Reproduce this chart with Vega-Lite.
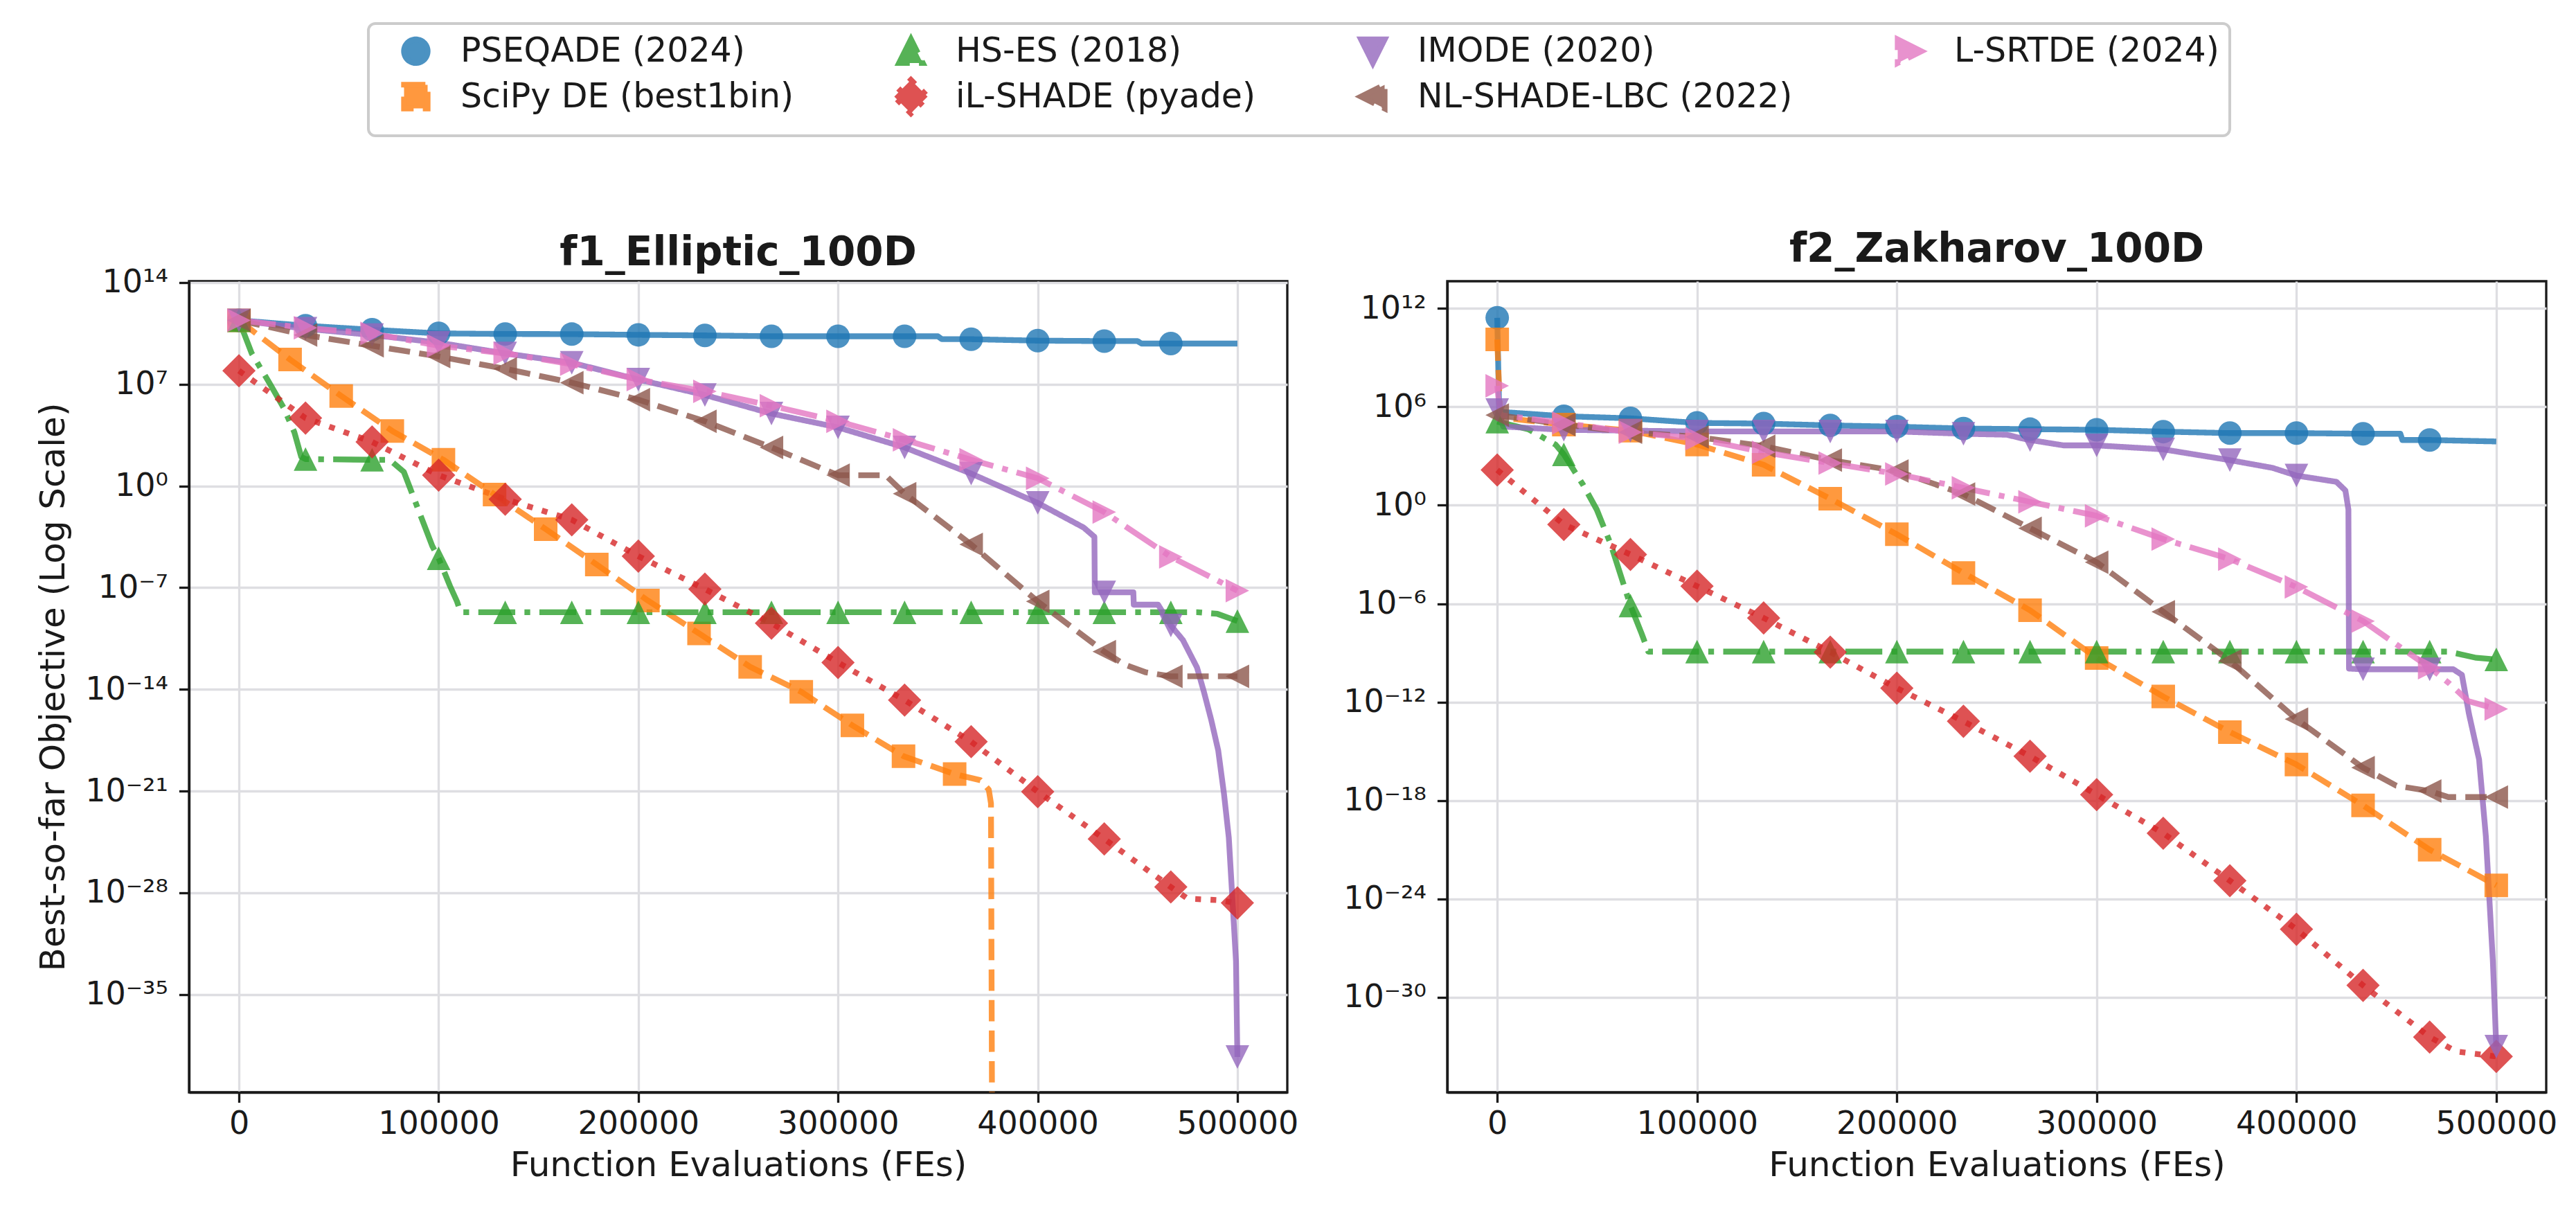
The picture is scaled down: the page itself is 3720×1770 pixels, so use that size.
{
  "$schema": "https://vega.github.io/schema/vega-lite/v6.json",
  "background": "white",
  "padding": {"left": 50, "top": 32, "right": 41, "bottom": 20},
  "config": {
    "font": "DejaVu Sans",
    "view": {"stroke": "#1a1a1a", "strokeWidth": 3.33},
    "axis": {
      "labelFont": "DejaVu Sans", "labelFontSize": 46, "labelColor": "#1a1a1a",
      "titleFont": "DejaVu Sans", "titleFontSize": 50, "titleFontWeight": "normal", "titleColor": "#1a1a1a",
      "tickSize": 14.6, "tickWidth": 3.33, "tickColor": "#1a1a1a",
      "domainColor": "#1a1a1a", "domainWidth": 3.33,
      "gridColor": "#dedee2", "gridWidth": 3.33,
      "labelOverlap": false, "labelFlush": false
    },
    "title": {"font": "DejaVu Sans", "fontSize": 58, "fontWeight": "bold", "color": "#1a1a1a", "baseline": "alphabetic", "anchor": "middle", "frame": "group"},
    "legend": {
      "orient": "none", "legendX": 259, "legendY": -372, "columns": 4,
      "labelFont": "DejaVu Sans", "labelFontSize": 49, "labelColor": "#1a1a1a", "labelLimit": 2000,
      "symbolSize": 1156, "symbolStrokeWidth": 8.33, "symbolOffset": 29, "labelOffset": 40,
      "columnPadding": 115, "rowPadding": -10, "padding": 15,
      "strokeColor": "#cccccc", "strokeWidth": 4, "cornerRadius": 10, "fillColor": "#ffffff"
    }
  },
  "resolve": {"scale": {"x": "independent", "y": "independent", "color": "shared", "strokeDash": "shared", "shape": "shared"}},
  "spacing": 231,
  "bounds": "flush",
  "datasets": {
    "curve": [
      {"fn":"f1_Elliptic_100D","algo":"PSEQADE (2024)","fe":0,"best":2.51e11},
      {"fn":"f1_Elliptic_100D","algo":"PSEQADE (2024)","fe":33333,"best":1.07e11},
      {"fn":"f1_Elliptic_100D","algo":"PSEQADE (2024)","fe":66667,"best":5.62e10},
      {"fn":"f1_Elliptic_100D","algo":"PSEQADE (2024)","fe":100000,"best":3.16e10},
      {"fn":"f1_Elliptic_100D","algo":"PSEQADE (2024)","fe":133333,"best":2.88e10},
      {"fn":"f1_Elliptic_100D","algo":"PSEQADE (2024)","fe":166667,"best":2.82e10},
      {"fn":"f1_Elliptic_100D","algo":"PSEQADE (2024)","fe":200000,"best":2.51e10},
      {"fn":"f1_Elliptic_100D","algo":"PSEQADE (2024)","fe":233333,"best":2.29e10},
      {"fn":"f1_Elliptic_100D","algo":"PSEQADE (2024)","fe":266667,"best":2.0e10},
      {"fn":"f1_Elliptic_100D","algo":"PSEQADE (2024)","fe":300000,"best":2.0e10},
      {"fn":"f1_Elliptic_100D","algo":"PSEQADE (2024)","fe":333333,"best":2.0e10},
      {"fn":"f1_Elliptic_100D","algo":"PSEQADE (2024)","fe":350000,"best":2.0e10},
      {"fn":"f1_Elliptic_100D","algo":"PSEQADE (2024)","fe":352000,"best":1.26e10},
      {"fn":"f1_Elliptic_100D","algo":"PSEQADE (2024)","fe":366667,"best":1.26e10},
      {"fn":"f1_Elliptic_100D","algo":"PSEQADE (2024)","fe":400000,"best":1.0e10},
      {"fn":"f1_Elliptic_100D","algo":"PSEQADE (2024)","fe":433333,"best":9.33e9},
      {"fn":"f1_Elliptic_100D","algo":"PSEQADE (2024)","fe":450000,"best":9.33e9},
      {"fn":"f1_Elliptic_100D","algo":"PSEQADE (2024)","fe":452000,"best":6.31e9},
      {"fn":"f1_Elliptic_100D","algo":"PSEQADE (2024)","fe":466667,"best":6.31e9},
      {"fn":"f1_Elliptic_100D","algo":"PSEQADE (2024)","fe":500000,"best":6.31e9},

      {"fn":"f1_Elliptic_100D","algo":"SciPy DE (best1bin)","fe":0,"best":2.51e11},
      {"fn":"f1_Elliptic_100D","algo":"SciPy DE (best1bin)","fe":25600,"best":5.01e8},
      {"fn":"f1_Elliptic_100D","algo":"SciPy DE (best1bin)","fe":51200,"best":1.55e6},
      {"fn":"f1_Elliptic_100D","algo":"SciPy DE (best1bin)","fe":76800,"best":6.03e3},
      {"fn":"f1_Elliptic_100D","algo":"SciPy DE (best1bin)","fe":102400,"best":63.1},
      {"fn":"f1_Elliptic_100D","algo":"SciPy DE (best1bin)","fe":128000,"best":0.257},
      {"fn":"f1_Elliptic_100D","algo":"SciPy DE (best1bin)","fe":153600,"best":1.07e-3},
      {"fn":"f1_Elliptic_100D","algo":"SciPy DE (best1bin)","fe":179200,"best":3.89e-6},
      {"fn":"f1_Elliptic_100D","algo":"SciPy DE (best1bin)","fe":204800,"best":1.29e-8},
      {"fn":"f1_Elliptic_100D","algo":"SciPy DE (best1bin)","fe":230400,"best":7.08e-11},
      {"fn":"f1_Elliptic_100D","algo":"SciPy DE (best1bin)","fe":256000,"best":3.55e-13},
      {"fn":"f1_Elliptic_100D","algo":"SciPy DE (best1bin)","fe":281600,"best":6.76e-15},
      {"fn":"f1_Elliptic_100D","algo":"SciPy DE (best1bin)","fe":307200,"best":3.31e-17},
      {"fn":"f1_Elliptic_100D","algo":"SciPy DE (best1bin)","fe":332800,"best":2.51e-19},
      {"fn":"f1_Elliptic_100D","algo":"SciPy DE (best1bin)","fe":358400,"best":1.48e-20},
      {"fn":"f1_Elliptic_100D","algo":"SciPy DE (best1bin)","fe":371300,"best":5.62e-21},
      {"fn":"f1_Elliptic_100D","algo":"SciPy DE (best1bin)","fe":375500,"best":1.26e-21},
      {"fn":"f1_Elliptic_100D","algo":"SciPy DE (best1bin)","fe":376600,"best":1.41e-22},
      {"fn":"f1_Elliptic_100D","algo":"SciPy DE (best1bin)","fe":377300,"best":1e-50},

      {"fn":"f1_Elliptic_100D","algo":"HS-ES (2018)","fe":0,"best":2.51e11},
      {"fn":"f1_Elliptic_100D","algo":"HS-ES (2018)","fe":6400,"best":1.32e9},
      {"fn":"f1_Elliptic_100D","algo":"HS-ES (2018)","fe":15200,"best":1.26e7},
      {"fn":"f1_Elliptic_100D","algo":"HS-ES (2018)","fe":22300,"best":2.51e5},
      {"fn":"f1_Elliptic_100D","algo":"HS-ES (2018)","fe":27700,"best":5.13e3},
      {"fn":"f1_Elliptic_100D","algo":"HS-ES (2018)","fe":31200,"best":100},
      {"fn":"f1_Elliptic_100D","algo":"HS-ES (2018)","fe":33333,"best":70.8},
      {"fn":"f1_Elliptic_100D","algo":"HS-ES (2018)","fe":66667,"best":63.1},
      {"fn":"f1_Elliptic_100D","algo":"HS-ES (2018)","fe":75500,"best":63.1},
      {"fn":"f1_Elliptic_100D","algo":"HS-ES (2018)","fe":82600,"best":9.12},
      {"fn":"f1_Elliptic_100D","algo":"HS-ES (2018)","fe":89700,"best":0.0257},
      {"fn":"f1_Elliptic_100D","algo":"HS-ES (2018)","fe":96800,"best":7.41e-5},
      {"fn":"f1_Elliptic_100D","algo":"HS-ES (2018)","fe":100000,"best":1.05e-5},
      {"fn":"f1_Elliptic_100D","algo":"HS-ES (2018)","fe":105700,"best":1.29e-7},
      {"fn":"f1_Elliptic_100D","algo":"HS-ES (2018)","fe":109200,"best":1.12e-8},
      {"fn":"f1_Elliptic_100D","algo":"HS-ES (2018)","fe":111000,"best":2.04e-9},
      {"fn":"f1_Elliptic_100D","algo":"HS-ES (2018)","fe":480000,"best":2.04e-9},
      {"fn":"f1_Elliptic_100D","algo":"HS-ES (2018)","fe":490000,"best":1.58e-9},
      {"fn":"f1_Elliptic_100D","algo":"HS-ES (2018)","fe":500000,"best":5.01e-10},

      {"fn":"f1_Elliptic_100D","algo":"iL-SHADE (pyade)","fe":0,"best":8.51e7},
      {"fn":"f1_Elliptic_100D","algo":"iL-SHADE (pyade)","fe":33333,"best":4.68e4},
      {"fn":"f1_Elliptic_100D","algo":"iL-SHADE (pyade)","fe":66667,"best":1.07e3},
      {"fn":"f1_Elliptic_100D","algo":"iL-SHADE (pyade)","fe":100000,"best":5.5},
      {"fn":"f1_Elliptic_100D","algo":"iL-SHADE (pyade)","fe":133333,"best":0.123},
      {"fn":"f1_Elliptic_100D","algo":"iL-SHADE (pyade)","fe":166667,"best":4.68e-3},
      {"fn":"f1_Elliptic_100D","algo":"iL-SHADE (pyade)","fe":200000,"best":1.48e-5},
      {"fn":"f1_Elliptic_100D","algo":"iL-SHADE (pyade)","fe":233333,"best":7.94e-8},
      {"fn":"f1_Elliptic_100D","algo":"iL-SHADE (pyade)","fe":266667,"best":3.55e-10},
      {"fn":"f1_Elliptic_100D","algo":"iL-SHADE (pyade)","fe":300000,"best":7.08e-13},
      {"fn":"f1_Elliptic_100D","algo":"iL-SHADE (pyade)","fe":333333,"best":1.82e-15},
      {"fn":"f1_Elliptic_100D","algo":"iL-SHADE (pyade)","fe":366667,"best":2.51e-18},
      {"fn":"f1_Elliptic_100D","algo":"iL-SHADE (pyade)","fe":400000,"best":9.12e-22},
      {"fn":"f1_Elliptic_100D","algo":"iL-SHADE (pyade)","fe":433333,"best":5.13e-25},
      {"fn":"f1_Elliptic_100D","algo":"iL-SHADE (pyade)","fe":466667,"best":2.51e-28},
      {"fn":"f1_Elliptic_100D","algo":"iL-SHADE (pyade)","fe":475000,"best":3.98e-29},
      {"fn":"f1_Elliptic_100D","algo":"iL-SHADE (pyade)","fe":490000,"best":3.16e-29},
      {"fn":"f1_Elliptic_100D","algo":"iL-SHADE (pyade)","fe":500000,"best":2.0e-29},

      {"fn":"f1_Elliptic_100D","algo":"IMODE (2020)","fe":0,"best":2.51e11},
      {"fn":"f1_Elliptic_100D","algo":"IMODE (2020)","fe":33333,"best":6.61e10},
      {"fn":"f1_Elliptic_100D","algo":"IMODE (2020)","fe":66667,"best":2.45e10},
      {"fn":"f1_Elliptic_100D","algo":"IMODE (2020)","fe":100000,"best":7.24e9},
      {"fn":"f1_Elliptic_100D","algo":"IMODE (2020)","fe":133333,"best":1.32e9},
      {"fn":"f1_Elliptic_100D","algo":"IMODE (2020)","fe":166667,"best":3.02e8},
      {"fn":"f1_Elliptic_100D","algo":"IMODE (2020)","fe":200000,"best":2.09e7},
      {"fn":"f1_Elliptic_100D","algo":"IMODE (2020)","fe":233333,"best":1.82e6},
      {"fn":"f1_Elliptic_100D","algo":"IMODE (2020)","fe":266667,"best":9.55e4},
      {"fn":"f1_Elliptic_100D","algo":"IMODE (2020)","fe":300000,"best":1.07e4},
      {"fn":"f1_Elliptic_100D","algo":"IMODE (2020)","fe":333333,"best":447},
      {"fn":"f1_Elliptic_100D","algo":"IMODE (2020)","fe":366667,"best":7.08},
      {"fn":"f1_Elliptic_100D","algo":"IMODE (2020)","fe":400000,"best":0.0676},
      {"fn":"f1_Elliptic_100D","algo":"IMODE (2020)","fe":423000,"best":1.38e-3},
      {"fn":"f1_Elliptic_100D","algo":"IMODE (2020)","fe":428400,"best":3.16e-4},
      {"fn":"f1_Elliptic_100D","algo":"IMODE (2020)","fe":428600,"best":4.79e-8},
      {"fn":"f1_Elliptic_100D","algo":"IMODE (2020)","fe":433333,"best":4.79e-8},
      {"fn":"f1_Elliptic_100D","algo":"IMODE (2020)","fe":447900,"best":4.79e-8},
      {"fn":"f1_Elliptic_100D","algo":"IMODE (2020)","fe":448100,"best":6.76e-9},
      {"fn":"f1_Elliptic_100D","algo":"IMODE (2020)","fe":460300,"best":6.76e-9},
      {"fn":"f1_Elliptic_100D","algo":"IMODE (2020)","fe":466667,"best":2.51e-10},
      {"fn":"f1_Elliptic_100D","algo":"IMODE (2020)","fe":472700,"best":2.51e-11},
      {"fn":"f1_Elliptic_100D","algo":"IMODE (2020)","fe":479800,"best":3.16e-13},
      {"fn":"f1_Elliptic_100D","algo":"IMODE (2020)","fe":483300,"best":6.31e-15},
      {"fn":"f1_Elliptic_100D","algo":"IMODE (2020)","fe":486900,"best":7.94e-17},
      {"fn":"f1_Elliptic_100D","algo":"IMODE (2020)","fe":490400,"best":6.31e-19},
      {"fn":"f1_Elliptic_100D","algo":"IMODE (2020)","fe":493300,"best":6.31e-22},
      {"fn":"f1_Elliptic_100D","algo":"IMODE (2020)","fe":495700,"best":6.31e-25},
      {"fn":"f1_Elliptic_100D","algo":"IMODE (2020)","fe":497500,"best":3.98e-29},
      {"fn":"f1_Elliptic_100D","algo":"IMODE (2020)","fe":499300,"best":2.0e-33},
      {"fn":"f1_Elliptic_100D","algo":"IMODE (2020)","fe":500000,"best":5.01e-40},

      {"fn":"f1_Elliptic_100D","algo":"NL-SHADE-LBC (2022)","fe":0,"best":2.51e11},
      {"fn":"f1_Elliptic_100D","algo":"NL-SHADE-LBC (2022)","fe":33333,"best":2.45e10},
      {"fn":"f1_Elliptic_100D","algo":"NL-SHADE-LBC (2022)","fe":66667,"best":4.47e9},
      {"fn":"f1_Elliptic_100D","algo":"NL-SHADE-LBC (2022)","fe":100000,"best":8.13e8},
      {"fn":"f1_Elliptic_100D","algo":"NL-SHADE-LBC (2022)","fe":133333,"best":1.15e8},
      {"fn":"f1_Elliptic_100D","algo":"NL-SHADE-LBC (2022)","fe":166667,"best":1.29e7},
      {"fn":"f1_Elliptic_100D","algo":"NL-SHADE-LBC (2022)","fe":200000,"best":8.71e5},
      {"fn":"f1_Elliptic_100D","algo":"NL-SHADE-LBC (2022)","fe":233333,"best":2.82e4},
      {"fn":"f1_Elliptic_100D","algo":"NL-SHADE-LBC (2022)","fe":266667,"best":447},
      {"fn":"f1_Elliptic_100D","algo":"NL-SHADE-LBC (2022)","fe":300000,"best":5.5},
      {"fn":"f1_Elliptic_100D","algo":"NL-SHADE-LBC (2022)","fe":323800,"best":5.5},
      {"fn":"f1_Elliptic_100D","algo":"NL-SHADE-LBC (2022)","fe":333333,"best":0.295},
      {"fn":"f1_Elliptic_100D","algo":"NL-SHADE-LBC (2022)","fe":366667,"best":9.33e-5},
      {"fn":"f1_Elliptic_100D","algo":"NL-SHADE-LBC (2022)","fe":400000,"best":1.12e-8},
      {"fn":"f1_Elliptic_100D","algo":"NL-SHADE-LBC (2022)","fe":433333,"best":3.98e-12},
      {"fn":"f1_Elliptic_100D","algo":"NL-SHADE-LBC (2022)","fe":443600,"best":5.01e-13},
      {"fn":"f1_Elliptic_100D","algo":"NL-SHADE-LBC (2022)","fe":454200,"best":1.48e-13},
      {"fn":"f1_Elliptic_100D","algo":"NL-SHADE-LBC (2022)","fe":466667,"best":7.94e-14},
      {"fn":"f1_Elliptic_100D","algo":"NL-SHADE-LBC (2022)","fe":500000,"best":7.94e-14},

      {"fn":"f1_Elliptic_100D","algo":"L-SRTDE (2024)","fe":0,"best":2.51e11},
      {"fn":"f1_Elliptic_100D","algo":"L-SRTDE (2024)","fe":33333,"best":7.59e10},
      {"fn":"f1_Elliptic_100D","algo":"L-SRTDE (2024)","fe":66667,"best":3.16e10},
      {"fn":"f1_Elliptic_100D","algo":"L-SRTDE (2024)","fe":100000,"best":4.47e9},
      {"fn":"f1_Elliptic_100D","algo":"L-SRTDE (2024)","fe":133333,"best":1.32e9},
      {"fn":"f1_Elliptic_100D","algo":"L-SRTDE (2024)","fe":166667,"best":2.4e8},
      {"fn":"f1_Elliptic_100D","algo":"L-SRTDE (2024)","fe":200000,"best":2.09e7},
      {"fn":"f1_Elliptic_100D","algo":"L-SRTDE (2024)","fe":233333,"best":3.24e6},
      {"fn":"f1_Elliptic_100D","algo":"L-SRTDE (2024)","fe":266667,"best":3.31e5},
      {"fn":"f1_Elliptic_100D","algo":"L-SRTDE (2024)","fe":300000,"best":2.82e4},
      {"fn":"f1_Elliptic_100D","algo":"L-SRTDE (2024)","fe":333333,"best":1.51e3},
      {"fn":"f1_Elliptic_100D","algo":"L-SRTDE (2024)","fe":366667,"best":63.1},
      {"fn":"f1_Elliptic_100D","algo":"L-SRTDE (2024)","fe":400000,"best":3.39},
      {"fn":"f1_Elliptic_100D","algo":"L-SRTDE (2024)","fe":433333,"best":0.0158},
      {"fn":"f1_Elliptic_100D","algo":"L-SRTDE (2024)","fe":466667,"best":1.32e-5},
      {"fn":"f1_Elliptic_100D","algo":"L-SRTDE (2024)","fe":500000,"best":6.17e-8},

      {"fn":"f2_Zakharov_100D","algo":"PSEQADE (2024)","fe":0,"best":2.69e11},
      {"fn":"f2_Zakharov_100D","algo":"PSEQADE (2024)","fe":1000,"best":5.01e5},
      {"fn":"f2_Zakharov_100D","algo":"PSEQADE (2024)","fe":33333,"best":2.69e5},
      {"fn":"f2_Zakharov_100D","algo":"PSEQADE (2024)","fe":66667,"best":2.0e5},
      {"fn":"f2_Zakharov_100D","algo":"PSEQADE (2024)","fe":100000,"best":1.05e5},
      {"fn":"f2_Zakharov_100D","algo":"PSEQADE (2024)","fe":133333,"best":9.55e4},
      {"fn":"f2_Zakharov_100D","algo":"PSEQADE (2024)","fe":166667,"best":7.41e4},
      {"fn":"f2_Zakharov_100D","algo":"PSEQADE (2024)","fe":200000,"best":6.17e4},
      {"fn":"f2_Zakharov_100D","algo":"PSEQADE (2024)","fe":233333,"best":4.79e4},
      {"fn":"f2_Zakharov_100D","algo":"PSEQADE (2024)","fe":266667,"best":4.37e4},
      {"fn":"f2_Zakharov_100D","algo":"PSEQADE (2024)","fe":300000,"best":3.98e4},
      {"fn":"f2_Zakharov_100D","algo":"PSEQADE (2024)","fe":333333,"best":3.09e4},
      {"fn":"f2_Zakharov_100D","algo":"PSEQADE (2024)","fe":366667,"best":2.51e4},
      {"fn":"f2_Zakharov_100D","algo":"PSEQADE (2024)","fe":400000,"best":2.51e4},
      {"fn":"f2_Zakharov_100D","algo":"PSEQADE (2024)","fe":433333,"best":2.29e4},
      {"fn":"f2_Zakharov_100D","algo":"PSEQADE (2024)","fe":452000,"best":2.29e4},
      {"fn":"f2_Zakharov_100D","algo":"PSEQADE (2024)","fe":453000,"best":9.55e3},
      {"fn":"f2_Zakharov_100D","algo":"PSEQADE (2024)","fe":466667,"best":9.55e3},
      {"fn":"f2_Zakharov_100D","algo":"PSEQADE (2024)","fe":500000,"best":7.76e3},

      {"fn":"f2_Zakharov_100D","algo":"SciPy DE (best1bin)","fe":0,"best":1.29e10},
      {"fn":"f2_Zakharov_100D","algo":"SciPy DE (best1bin)","fe":1500,"best":2.24e5},
      {"fn":"f2_Zakharov_100D","algo":"SciPy DE (best1bin)","fe":33333,"best":8.32e4},
      {"fn":"f2_Zakharov_100D","algo":"SciPy DE (best1bin)","fe":66667,"best":3.55e4},
      {"fn":"f2_Zakharov_100D","algo":"SciPy DE (best1bin)","fe":100000,"best":5.01e3},
      {"fn":"f2_Zakharov_100D","algo":"SciPy DE (best1bin)","fe":133333,"best":295},
      {"fn":"f2_Zakharov_100D","algo":"SciPy DE (best1bin)","fe":166667,"best":2.51},
      {"fn":"f2_Zakharov_100D","algo":"SciPy DE (best1bin)","fe":200000,"best":0.017},
      {"fn":"f2_Zakharov_100D","algo":"SciPy DE (best1bin)","fe":233333,"best":7.41e-5},
      {"fn":"f2_Zakharov_100D","algo":"SciPy DE (best1bin)","fe":266667,"best":3.98e-7},
      {"fn":"f2_Zakharov_100D","algo":"SciPy DE (best1bin)","fe":300000,"best":4.9e-10},
      {"fn":"f2_Zakharov_100D","algo":"SciPy DE (best1bin)","fe":333333,"best":2.19e-12},
      {"fn":"f2_Zakharov_100D","algo":"SciPy DE (best1bin)","fe":366667,"best":1.48e-14},
      {"fn":"f2_Zakharov_100D","algo":"SciPy DE (best1bin)","fe":400000,"best":1.55e-16},
      {"fn":"f2_Zakharov_100D","algo":"SciPy DE (best1bin)","fe":433333,"best":5.01e-19},
      {"fn":"f2_Zakharov_100D","algo":"SciPy DE (best1bin)","fe":466667,"best":1.0e-21},
      {"fn":"f2_Zakharov_100D","algo":"SciPy DE (best1bin)","fe":500000,"best":6.76e-24},

      {"fn":"f2_Zakharov_100D","algo":"HS-ES (2018)","fe":0,"best":1.26e5},
      {"fn":"f2_Zakharov_100D","algo":"HS-ES (2018)","fe":15500,"best":4.37e4},
      {"fn":"f2_Zakharov_100D","algo":"HS-ES (2018)","fe":29200,"best":5.01e3},
      {"fn":"f2_Zakharov_100D","algo":"HS-ES (2018)","fe":33333,"best":1.26e3},
      {"fn":"f2_Zakharov_100D","algo":"HS-ES (2018)","fe":43000,"best":17.4},
      {"fn":"f2_Zakharov_100D","algo":"HS-ES (2018)","fe":49800,"best":0.55},
      {"fn":"f2_Zakharov_100D","algo":"HS-ES (2018)","fe":56700,"best":4.57e-3},
      {"fn":"f2_Zakharov_100D","algo":"HS-ES (2018)","fe":66667,"best":7.76e-7},
      {"fn":"f2_Zakharov_100D","algo":"HS-ES (2018)","fe":72200,"best":1.58e-8},
      {"fn":"f2_Zakharov_100D","algo":"HS-ES (2018)","fe":75600,"best":1.2e-9},
      {"fn":"f2_Zakharov_100D","algo":"HS-ES (2018)","fe":476000,"best":1.2e-9},
      {"fn":"f2_Zakharov_100D","algo":"HS-ES (2018)","fe":490000,"best":5.01e-10},
      {"fn":"f2_Zakharov_100D","algo":"HS-ES (2018)","fe":500000,"best":3.98e-10},

      {"fn":"f2_Zakharov_100D","algo":"iL-SHADE (pyade)","fe":0,"best":141},
      {"fn":"f2_Zakharov_100D","algo":"iL-SHADE (pyade)","fe":33333,"best":0.0676},
      {"fn":"f2_Zakharov_100D","algo":"iL-SHADE (pyade)","fe":66667,"best":1e-3},
      {"fn":"f2_Zakharov_100D","algo":"iL-SHADE (pyade)","fe":100000,"best":1.17e-5},
      {"fn":"f2_Zakharov_100D","algo":"iL-SHADE (pyade)","fe":133333,"best":1.35e-7},
      {"fn":"f2_Zakharov_100D","algo":"iL-SHADE (pyade)","fe":166667,"best":1.12e-9},
      {"fn":"f2_Zakharov_100D","algo":"iL-SHADE (pyade)","fe":200000,"best":7.08e-12},
      {"fn":"f2_Zakharov_100D","algo":"iL-SHADE (pyade)","fe":233333,"best":6.76e-14},
      {"fn":"f2_Zakharov_100D","algo":"iL-SHADE (pyade)","fe":266667,"best":5.01e-16},
      {"fn":"f2_Zakharov_100D","algo":"iL-SHADE (pyade)","fe":300000,"best":2.29e-18},
      {"fn":"f2_Zakharov_100D","algo":"iL-SHADE (pyade)","fe":333333,"best":1e-20},
      {"fn":"f2_Zakharov_100D","algo":"iL-SHADE (pyade)","fe":366667,"best":1.29e-23},
      {"fn":"f2_Zakharov_100D","algo":"iL-SHADE (pyade)","fe":400000,"best":1.41e-26},
      {"fn":"f2_Zakharov_100D","algo":"iL-SHADE (pyade)","fe":433333,"best":5.37e-30},
      {"fn":"f2_Zakharov_100D","algo":"iL-SHADE (pyade)","fe":466667,"best":3.8e-33},
      {"fn":"f2_Zakharov_100D","algo":"iL-SHADE (pyade)","fe":480000,"best":5.01e-34},
      {"fn":"f2_Zakharov_100D","algo":"iL-SHADE (pyade)","fe":490000,"best":3.55e-34},
      {"fn":"f2_Zakharov_100D","algo":"iL-SHADE (pyade)","fe":500000,"best":2.51e-34},

      {"fn":"f2_Zakharov_100D","algo":"IMODE (2020)","fe":0,"best":6.31e5},
      {"fn":"f2_Zakharov_100D","algo":"IMODE (2020)","fe":3000,"best":6.31e4},
      {"fn":"f2_Zakharov_100D","algo":"IMODE (2020)","fe":33333,"best":3.98e4},
      {"fn":"f2_Zakharov_100D","algo":"IMODE (2020)","fe":66667,"best":3.55e4},
      {"fn":"f2_Zakharov_100D","algo":"IMODE (2020)","fe":100000,"best":3.16e4},
      {"fn":"f2_Zakharov_100D","algo":"IMODE (2020)","fe":133333,"best":3.16e4},
      {"fn":"f2_Zakharov_100D","algo":"IMODE (2020)","fe":166667,"best":3.16e4},
      {"fn":"f2_Zakharov_100D","algo":"IMODE (2020)","fe":200000,"best":3.16e4},
      {"fn":"f2_Zakharov_100D","algo":"IMODE (2020)","fe":233333,"best":2.29e4},
      {"fn":"f2_Zakharov_100D","algo":"IMODE (2020)","fe":255000,"best":2.0e4},
      {"fn":"f2_Zakharov_100D","algo":"IMODE (2020)","fe":263000,"best":1.17e4},
      {"fn":"f2_Zakharov_100D","algo":"IMODE (2020)","fe":266667,"best":9.55e3},
      {"fn":"f2_Zakharov_100D","algo":"IMODE (2020)","fe":283500,"best":4.47e3},
      {"fn":"f2_Zakharov_100D","algo":"IMODE (2020)","fe":300000,"best":4.47e3},
      {"fn":"f2_Zakharov_100D","algo":"IMODE (2020)","fe":333333,"best":2.57e3},
      {"fn":"f2_Zakharov_100D","algo":"IMODE (2020)","fe":366667,"best":562},
      {"fn":"f2_Zakharov_100D","algo":"IMODE (2020)","fe":388000,"best":191},
      {"fn":"f2_Zakharov_100D","algo":"IMODE (2020)","fe":400000,"best":64.6},
      {"fn":"f2_Zakharov_100D","algo":"IMODE (2020)","fe":420000,"best":26.9},
      {"fn":"f2_Zakharov_100D","algo":"IMODE (2020)","fe":424500,"best":7.94},
      {"fn":"f2_Zakharov_100D","algo":"IMODE (2020)","fe":426000,"best":0.55},
      {"fn":"f2_Zakharov_100D","algo":"IMODE (2020)","fe":426300,"best":1.1e-10},
      {"fn":"f2_Zakharov_100D","algo":"IMODE (2020)","fe":433333,"best":1e-10},
      {"fn":"f2_Zakharov_100D","algo":"IMODE (2020)","fe":466667,"best":1e-10},
      {"fn":"f2_Zakharov_100D","algo":"IMODE (2020)","fe":478500,"best":1e-10},
      {"fn":"f2_Zakharov_100D","algo":"IMODE (2020)","fe":482800,"best":4.57e-11},
      {"fn":"f2_Zakharov_100D","algo":"IMODE (2020)","fe":486300,"best":2.0e-13},
      {"fn":"f2_Zakharov_100D","algo":"IMODE (2020)","fe":491400,"best":3.16e-16},
      {"fn":"f2_Zakharov_100D","algo":"IMODE (2020)","fe":494800,"best":6.31e-21},
      {"fn":"f2_Zakharov_100D","algo":"IMODE (2020)","fe":498300,"best":1.58e-28},
      {"fn":"f2_Zakharov_100D","algo":"IMODE (2020)","fe":500000,"best":1e-33},

      {"fn":"f2_Zakharov_100D","algo":"NL-SHADE-LBC (2022)","fe":0,"best":3.16e5},
      {"fn":"f2_Zakharov_100D","algo":"NL-SHADE-LBC (2022)","fe":33333,"best":8.32e4},
      {"fn":"f2_Zakharov_100D","algo":"NL-SHADE-LBC (2022)","fe":66667,"best":2.82e4},
      {"fn":"f2_Zakharov_100D","algo":"NL-SHADE-LBC (2022)","fe":100000,"best":1.48e4},
      {"fn":"f2_Zakharov_100D","algo":"NL-SHADE-LBC (2022)","fe":133333,"best":3.98e3},
      {"fn":"f2_Zakharov_100D","algo":"NL-SHADE-LBC (2022)","fe":166667,"best":562},
      {"fn":"f2_Zakharov_100D","algo":"NL-SHADE-LBC (2022)","fe":200000,"best":123},
      {"fn":"f2_Zakharov_100D","algo":"NL-SHADE-LBC (2022)","fe":233333,"best":4.79},
      {"fn":"f2_Zakharov_100D","algo":"NL-SHADE-LBC (2022)","fe":266667,"best":0.0398},
      {"fn":"f2_Zakharov_100D","algo":"NL-SHADE-LBC (2022)","fe":300000,"best":3.39e-4},
      {"fn":"f2_Zakharov_100D","algo":"NL-SHADE-LBC (2022)","fe":333333,"best":3.24e-7},
      {"fn":"f2_Zakharov_100D","algo":"NL-SHADE-LBC (2022)","fe":366667,"best":3.24e-10},
      {"fn":"f2_Zakharov_100D","algo":"NL-SHADE-LBC (2022)","fe":400000,"best":9.12e-14},
      {"fn":"f2_Zakharov_100D","algo":"NL-SHADE-LBC (2022)","fe":433333,"best":1e-16},
      {"fn":"f2_Zakharov_100D","algo":"NL-SHADE-LBC (2022)","fe":450000,"best":7.94e-18},
      {"fn":"f2_Zakharov_100D","algo":"NL-SHADE-LBC (2022)","fe":466667,"best":3.8e-18},
      {"fn":"f2_Zakharov_100D","algo":"NL-SHADE-LBC (2022)","fe":476000,"best":1.62e-18},
      {"fn":"f2_Zakharov_100D","algo":"NL-SHADE-LBC (2022)","fe":500000,"best":1.62e-18},

      {"fn":"f2_Zakharov_100D","algo":"L-SRTDE (2024)","fe":0,"best":1.91e7},
      {"fn":"f2_Zakharov_100D","algo":"L-SRTDE (2024)","fe":1500,"best":3.16e5},
      {"fn":"f2_Zakharov_100D","algo":"L-SRTDE (2024)","fe":33333,"best":1.05e5},
      {"fn":"f2_Zakharov_100D","algo":"L-SRTDE (2024)","fe":66667,"best":2.82e4},
      {"fn":"f2_Zakharov_100D","algo":"L-SRTDE (2024)","fe":100000,"best":1.17e4},
      {"fn":"f2_Zakharov_100D","algo":"L-SRTDE (2024)","fe":133333,"best":1.7e3},
      {"fn":"f2_Zakharov_100D","algo":"L-SRTDE (2024)","fe":166667,"best":372},
      {"fn":"f2_Zakharov_100D","algo":"L-SRTDE (2024)","fe":200000,"best":81.3},
      {"fn":"f2_Zakharov_100D","algo":"L-SRTDE (2024)","fe":233333,"best":11.5},
      {"fn":"f2_Zakharov_100D","algo":"L-SRTDE (2024)","fe":266667,"best":1.62},
      {"fn":"f2_Zakharov_100D","algo":"L-SRTDE (2024)","fe":300000,"best":0.229},
      {"fn":"f2_Zakharov_100D","algo":"L-SRTDE (2024)","fe":333333,"best":8.71e-3},
      {"fn":"f2_Zakharov_100D","algo":"L-SRTDE (2024)","fe":366667,"best":5.25e-4},
      {"fn":"f2_Zakharov_100D","algo":"L-SRTDE (2024)","fe":400000,"best":1.05e-5},
      {"fn":"f2_Zakharov_100D","algo":"L-SRTDE (2024)","fe":433333,"best":8.71e-8},
      {"fn":"f2_Zakharov_100D","algo":"L-SRTDE (2024)","fe":466667,"best":1.26e-10},
      {"fn":"f2_Zakharov_100D","algo":"L-SRTDE (2024)","fe":476000,"best":1.55e-11},
      {"fn":"f2_Zakharov_100D","algo":"L-SRTDE (2024)","fe":486000,"best":1.15e-12},
      {"fn":"f2_Zakharov_100D","algo":"L-SRTDE (2024)","fe":500000,"best":3.8e-13}
    ],
    "checkpoint": [
      {"fn":"f1_Elliptic_100D","algo":"PSEQADE (2024)","fe":0,"best":2.51e11},
      {"fn":"f1_Elliptic_100D","algo":"PSEQADE (2024)","fe":33333,"best":1.07e11},
      {"fn":"f1_Elliptic_100D","algo":"PSEQADE (2024)","fe":66667,"best":5.62e10},
      {"fn":"f1_Elliptic_100D","algo":"PSEQADE (2024)","fe":100000,"best":3.16e10},
      {"fn":"f1_Elliptic_100D","algo":"PSEQADE (2024)","fe":133333,"best":2.88e10},
      {"fn":"f1_Elliptic_100D","algo":"PSEQADE (2024)","fe":166667,"best":2.82e10},
      {"fn":"f1_Elliptic_100D","algo":"PSEQADE (2024)","fe":200000,"best":2.51e10},
      {"fn":"f1_Elliptic_100D","algo":"PSEQADE (2024)","fe":233333,"best":2.29e10},
      {"fn":"f1_Elliptic_100D","algo":"PSEQADE (2024)","fe":266667,"best":2.0e10},
      {"fn":"f1_Elliptic_100D","algo":"PSEQADE (2024)","fe":300000,"best":2.0e10},
      {"fn":"f1_Elliptic_100D","algo":"PSEQADE (2024)","fe":333333,"best":2.0e10},
      {"fn":"f1_Elliptic_100D","algo":"PSEQADE (2024)","fe":366667,"best":1.26e10},
      {"fn":"f1_Elliptic_100D","algo":"PSEQADE (2024)","fe":400000,"best":1.0e10},
      {"fn":"f1_Elliptic_100D","algo":"PSEQADE (2024)","fe":433333,"best":9.33e9},
      {"fn":"f1_Elliptic_100D","algo":"PSEQADE (2024)","fe":466667,"best":6.31e9},

      {"fn":"f1_Elliptic_100D","algo":"SciPy DE (best1bin)","fe":0,"best":2.51e11},
      {"fn":"f1_Elliptic_100D","algo":"SciPy DE (best1bin)","fe":25600,"best":5.01e8},
      {"fn":"f1_Elliptic_100D","algo":"SciPy DE (best1bin)","fe":51200,"best":1.55e6},
      {"fn":"f1_Elliptic_100D","algo":"SciPy DE (best1bin)","fe":76800,"best":6.03e3},
      {"fn":"f1_Elliptic_100D","algo":"SciPy DE (best1bin)","fe":102400,"best":63.1},
      {"fn":"f1_Elliptic_100D","algo":"SciPy DE (best1bin)","fe":128000,"best":0.257},
      {"fn":"f1_Elliptic_100D","algo":"SciPy DE (best1bin)","fe":153600,"best":1.07e-3},
      {"fn":"f1_Elliptic_100D","algo":"SciPy DE (best1bin)","fe":179200,"best":3.89e-6},
      {"fn":"f1_Elliptic_100D","algo":"SciPy DE (best1bin)","fe":204800,"best":1.29e-8},
      {"fn":"f1_Elliptic_100D","algo":"SciPy DE (best1bin)","fe":230400,"best":7.08e-11},
      {"fn":"f1_Elliptic_100D","algo":"SciPy DE (best1bin)","fe":256000,"best":3.55e-13},
      {"fn":"f1_Elliptic_100D","algo":"SciPy DE (best1bin)","fe":281600,"best":6.76e-15},
      {"fn":"f1_Elliptic_100D","algo":"SciPy DE (best1bin)","fe":307200,"best":3.31e-17},
      {"fn":"f1_Elliptic_100D","algo":"SciPy DE (best1bin)","fe":332800,"best":2.51e-19},
      {"fn":"f1_Elliptic_100D","algo":"SciPy DE (best1bin)","fe":358400,"best":1.48e-20},

      {"fn":"f1_Elliptic_100D","algo":"HS-ES (2018)","fe":0,"best":2.51e11},
      {"fn":"f1_Elliptic_100D","algo":"HS-ES (2018)","fe":33333,"best":70.8},
      {"fn":"f1_Elliptic_100D","algo":"HS-ES (2018)","fe":66667,"best":63.1},
      {"fn":"f1_Elliptic_100D","algo":"HS-ES (2018)","fe":100000,"best":1.05e-5},
      {"fn":"f1_Elliptic_100D","algo":"HS-ES (2018)","fe":133333,"best":2.04e-9},
      {"fn":"f1_Elliptic_100D","algo":"HS-ES (2018)","fe":166667,"best":2.04e-9},
      {"fn":"f1_Elliptic_100D","algo":"HS-ES (2018)","fe":200000,"best":2.04e-9},
      {"fn":"f1_Elliptic_100D","algo":"HS-ES (2018)","fe":233333,"best":2.04e-9},
      {"fn":"f1_Elliptic_100D","algo":"HS-ES (2018)","fe":266667,"best":2.04e-9},
      {"fn":"f1_Elliptic_100D","algo":"HS-ES (2018)","fe":300000,"best":2.04e-9},
      {"fn":"f1_Elliptic_100D","algo":"HS-ES (2018)","fe":333333,"best":2.04e-9},
      {"fn":"f1_Elliptic_100D","algo":"HS-ES (2018)","fe":366667,"best":2.04e-9},
      {"fn":"f1_Elliptic_100D","algo":"HS-ES (2018)","fe":400000,"best":2.04e-9},
      {"fn":"f1_Elliptic_100D","algo":"HS-ES (2018)","fe":433333,"best":2.04e-9},
      {"fn":"f1_Elliptic_100D","algo":"HS-ES (2018)","fe":466667,"best":2.04e-9},
      {"fn":"f1_Elliptic_100D","algo":"HS-ES (2018)","fe":500000,"best":5.01e-10},

      {"fn":"f1_Elliptic_100D","algo":"iL-SHADE (pyade)","fe":0,"best":8.51e7},
      {"fn":"f1_Elliptic_100D","algo":"iL-SHADE (pyade)","fe":33333,"best":4.68e4},
      {"fn":"f1_Elliptic_100D","algo":"iL-SHADE (pyade)","fe":66667,"best":1.07e3},
      {"fn":"f1_Elliptic_100D","algo":"iL-SHADE (pyade)","fe":100000,"best":5.5},
      {"fn":"f1_Elliptic_100D","algo":"iL-SHADE (pyade)","fe":133333,"best":0.123},
      {"fn":"f1_Elliptic_100D","algo":"iL-SHADE (pyade)","fe":166667,"best":4.68e-3},
      {"fn":"f1_Elliptic_100D","algo":"iL-SHADE (pyade)","fe":200000,"best":1.48e-5},
      {"fn":"f1_Elliptic_100D","algo":"iL-SHADE (pyade)","fe":233333,"best":7.94e-8},
      {"fn":"f1_Elliptic_100D","algo":"iL-SHADE (pyade)","fe":266667,"best":3.55e-10},
      {"fn":"f1_Elliptic_100D","algo":"iL-SHADE (pyade)","fe":300000,"best":7.08e-13},
      {"fn":"f1_Elliptic_100D","algo":"iL-SHADE (pyade)","fe":333333,"best":1.82e-15},
      {"fn":"f1_Elliptic_100D","algo":"iL-SHADE (pyade)","fe":366667,"best":2.51e-18},
      {"fn":"f1_Elliptic_100D","algo":"iL-SHADE (pyade)","fe":400000,"best":9.12e-22},
      {"fn":"f1_Elliptic_100D","algo":"iL-SHADE (pyade)","fe":433333,"best":5.13e-25},
      {"fn":"f1_Elliptic_100D","algo":"iL-SHADE (pyade)","fe":466667,"best":2.51e-28},
      {"fn":"f1_Elliptic_100D","algo":"iL-SHADE (pyade)","fe":500000,"best":2.0e-29},

      {"fn":"f1_Elliptic_100D","algo":"IMODE (2020)","fe":0,"best":2.51e11},
      {"fn":"f1_Elliptic_100D","algo":"IMODE (2020)","fe":33333,"best":6.61e10},
      {"fn":"f1_Elliptic_100D","algo":"IMODE (2020)","fe":66667,"best":2.45e10},
      {"fn":"f1_Elliptic_100D","algo":"IMODE (2020)","fe":100000,"best":7.24e9},
      {"fn":"f1_Elliptic_100D","algo":"IMODE (2020)","fe":133333,"best":1.32e9},
      {"fn":"f1_Elliptic_100D","algo":"IMODE (2020)","fe":166667,"best":3.02e8},
      {"fn":"f1_Elliptic_100D","algo":"IMODE (2020)","fe":200000,"best":2.09e7},
      {"fn":"f1_Elliptic_100D","algo":"IMODE (2020)","fe":233333,"best":1.82e6},
      {"fn":"f1_Elliptic_100D","algo":"IMODE (2020)","fe":266667,"best":9.55e4},
      {"fn":"f1_Elliptic_100D","algo":"IMODE (2020)","fe":300000,"best":1.07e4},
      {"fn":"f1_Elliptic_100D","algo":"IMODE (2020)","fe":333333,"best":447},
      {"fn":"f1_Elliptic_100D","algo":"IMODE (2020)","fe":366667,"best":7.08},
      {"fn":"f1_Elliptic_100D","algo":"IMODE (2020)","fe":400000,"best":0.0676},
      {"fn":"f1_Elliptic_100D","algo":"IMODE (2020)","fe":433333,"best":4.79e-8},
      {"fn":"f1_Elliptic_100D","algo":"IMODE (2020)","fe":466667,"best":2.51e-10},
      {"fn":"f1_Elliptic_100D","algo":"IMODE (2020)","fe":500000,"best":5.01e-40},

      {"fn":"f1_Elliptic_100D","algo":"NL-SHADE-LBC (2022)","fe":0,"best":2.51e11},
      {"fn":"f1_Elliptic_100D","algo":"NL-SHADE-LBC (2022)","fe":33333,"best":2.45e10},
      {"fn":"f1_Elliptic_100D","algo":"NL-SHADE-LBC (2022)","fe":66667,"best":4.47e9},
      {"fn":"f1_Elliptic_100D","algo":"NL-SHADE-LBC (2022)","fe":100000,"best":8.13e8},
      {"fn":"f1_Elliptic_100D","algo":"NL-SHADE-LBC (2022)","fe":133333,"best":1.15e8},
      {"fn":"f1_Elliptic_100D","algo":"NL-SHADE-LBC (2022)","fe":166667,"best":1.29e7},
      {"fn":"f1_Elliptic_100D","algo":"NL-SHADE-LBC (2022)","fe":200000,"best":8.71e5},
      {"fn":"f1_Elliptic_100D","algo":"NL-SHADE-LBC (2022)","fe":233333,"best":2.82e4},
      {"fn":"f1_Elliptic_100D","algo":"NL-SHADE-LBC (2022)","fe":266667,"best":447},
      {"fn":"f1_Elliptic_100D","algo":"NL-SHADE-LBC (2022)","fe":300000,"best":5.5},
      {"fn":"f1_Elliptic_100D","algo":"NL-SHADE-LBC (2022)","fe":333333,"best":0.295},
      {"fn":"f1_Elliptic_100D","algo":"NL-SHADE-LBC (2022)","fe":366667,"best":9.33e-5},
      {"fn":"f1_Elliptic_100D","algo":"NL-SHADE-LBC (2022)","fe":400000,"best":1.12e-8},
      {"fn":"f1_Elliptic_100D","algo":"NL-SHADE-LBC (2022)","fe":433333,"best":3.98e-12},
      {"fn":"f1_Elliptic_100D","algo":"NL-SHADE-LBC (2022)","fe":466667,"best":7.94e-14},
      {"fn":"f1_Elliptic_100D","algo":"NL-SHADE-LBC (2022)","fe":500000,"best":7.94e-14},

      {"fn":"f1_Elliptic_100D","algo":"L-SRTDE (2024)","fe":0,"best":2.51e11},
      {"fn":"f1_Elliptic_100D","algo":"L-SRTDE (2024)","fe":33333,"best":7.59e10},
      {"fn":"f1_Elliptic_100D","algo":"L-SRTDE (2024)","fe":66667,"best":3.16e10},
      {"fn":"f1_Elliptic_100D","algo":"L-SRTDE (2024)","fe":100000,"best":4.47e9},
      {"fn":"f1_Elliptic_100D","algo":"L-SRTDE (2024)","fe":133333,"best":1.32e9},
      {"fn":"f1_Elliptic_100D","algo":"L-SRTDE (2024)","fe":166667,"best":2.4e8},
      {"fn":"f1_Elliptic_100D","algo":"L-SRTDE (2024)","fe":200000,"best":2.09e7},
      {"fn":"f1_Elliptic_100D","algo":"L-SRTDE (2024)","fe":233333,"best":3.24e6},
      {"fn":"f1_Elliptic_100D","algo":"L-SRTDE (2024)","fe":266667,"best":3.31e5},
      {"fn":"f1_Elliptic_100D","algo":"L-SRTDE (2024)","fe":300000,"best":2.82e4},
      {"fn":"f1_Elliptic_100D","algo":"L-SRTDE (2024)","fe":333333,"best":1.51e3},
      {"fn":"f1_Elliptic_100D","algo":"L-SRTDE (2024)","fe":366667,"best":63.1},
      {"fn":"f1_Elliptic_100D","algo":"L-SRTDE (2024)","fe":400000,"best":3.39},
      {"fn":"f1_Elliptic_100D","algo":"L-SRTDE (2024)","fe":433333,"best":0.0158},
      {"fn":"f1_Elliptic_100D","algo":"L-SRTDE (2024)","fe":466667,"best":1.32e-5},
      {"fn":"f1_Elliptic_100D","algo":"L-SRTDE (2024)","fe":500000,"best":6.17e-8},

      {"fn":"f2_Zakharov_100D","algo":"PSEQADE (2024)","fe":0,"best":2.69e11},
      {"fn":"f2_Zakharov_100D","algo":"PSEQADE (2024)","fe":33333,"best":2.69e5},
      {"fn":"f2_Zakharov_100D","algo":"PSEQADE (2024)","fe":66667,"best":2.0e5},
      {"fn":"f2_Zakharov_100D","algo":"PSEQADE (2024)","fe":100000,"best":1.05e5},
      {"fn":"f2_Zakharov_100D","algo":"PSEQADE (2024)","fe":133333,"best":9.55e4},
      {"fn":"f2_Zakharov_100D","algo":"PSEQADE (2024)","fe":166667,"best":7.41e4},
      {"fn":"f2_Zakharov_100D","algo":"PSEQADE (2024)","fe":200000,"best":6.17e4},
      {"fn":"f2_Zakharov_100D","algo":"PSEQADE (2024)","fe":233333,"best":4.79e4},
      {"fn":"f2_Zakharov_100D","algo":"PSEQADE (2024)","fe":266667,"best":4.37e4},
      {"fn":"f2_Zakharov_100D","algo":"PSEQADE (2024)","fe":300000,"best":3.98e4},
      {"fn":"f2_Zakharov_100D","algo":"PSEQADE (2024)","fe":333333,"best":3.09e4},
      {"fn":"f2_Zakharov_100D","algo":"PSEQADE (2024)","fe":366667,"best":2.51e4},
      {"fn":"f2_Zakharov_100D","algo":"PSEQADE (2024)","fe":400000,"best":2.51e4},
      {"fn":"f2_Zakharov_100D","algo":"PSEQADE (2024)","fe":433333,"best":2.29e4},
      {"fn":"f2_Zakharov_100D","algo":"PSEQADE (2024)","fe":466667,"best":9.55e3},

      {"fn":"f2_Zakharov_100D","algo":"SciPy DE (best1bin)","fe":0,"best":1.29e10},
      {"fn":"f2_Zakharov_100D","algo":"SciPy DE (best1bin)","fe":33333,"best":8.32e4},
      {"fn":"f2_Zakharov_100D","algo":"SciPy DE (best1bin)","fe":66667,"best":3.55e4},
      {"fn":"f2_Zakharov_100D","algo":"SciPy DE (best1bin)","fe":100000,"best":5.01e3},
      {"fn":"f2_Zakharov_100D","algo":"SciPy DE (best1bin)","fe":133333,"best":295},
      {"fn":"f2_Zakharov_100D","algo":"SciPy DE (best1bin)","fe":166667,"best":2.51},
      {"fn":"f2_Zakharov_100D","algo":"SciPy DE (best1bin)","fe":200000,"best":0.017},
      {"fn":"f2_Zakharov_100D","algo":"SciPy DE (best1bin)","fe":233333,"best":7.41e-5},
      {"fn":"f2_Zakharov_100D","algo":"SciPy DE (best1bin)","fe":266667,"best":3.98e-7},
      {"fn":"f2_Zakharov_100D","algo":"SciPy DE (best1bin)","fe":300000,"best":4.9e-10},
      {"fn":"f2_Zakharov_100D","algo":"SciPy DE (best1bin)","fe":333333,"best":2.19e-12},
      {"fn":"f2_Zakharov_100D","algo":"SciPy DE (best1bin)","fe":366667,"best":1.48e-14},
      {"fn":"f2_Zakharov_100D","algo":"SciPy DE (best1bin)","fe":400000,"best":1.55e-16},
      {"fn":"f2_Zakharov_100D","algo":"SciPy DE (best1bin)","fe":433333,"best":5.01e-19},
      {"fn":"f2_Zakharov_100D","algo":"SciPy DE (best1bin)","fe":466667,"best":1.0e-21},
      {"fn":"f2_Zakharov_100D","algo":"SciPy DE (best1bin)","fe":500000,"best":6.76e-24},

      {"fn":"f2_Zakharov_100D","algo":"HS-ES (2018)","fe":0,"best":1.26e5},
      {"fn":"f2_Zakharov_100D","algo":"HS-ES (2018)","fe":33333,"best":1.26e3},
      {"fn":"f2_Zakharov_100D","algo":"HS-ES (2018)","fe":66667,"best":7.76e-7},
      {"fn":"f2_Zakharov_100D","algo":"HS-ES (2018)","fe":100000,"best":1.2e-9},
      {"fn":"f2_Zakharov_100D","algo":"HS-ES (2018)","fe":133333,"best":1.2e-9},
      {"fn":"f2_Zakharov_100D","algo":"HS-ES (2018)","fe":166667,"best":1.2e-9},
      {"fn":"f2_Zakharov_100D","algo":"HS-ES (2018)","fe":200000,"best":1.2e-9},
      {"fn":"f2_Zakharov_100D","algo":"HS-ES (2018)","fe":233333,"best":1.2e-9},
      {"fn":"f2_Zakharov_100D","algo":"HS-ES (2018)","fe":266667,"best":1.2e-9},
      {"fn":"f2_Zakharov_100D","algo":"HS-ES (2018)","fe":300000,"best":1.2e-9},
      {"fn":"f2_Zakharov_100D","algo":"HS-ES (2018)","fe":333333,"best":1.2e-9},
      {"fn":"f2_Zakharov_100D","algo":"HS-ES (2018)","fe":366667,"best":1.2e-9},
      {"fn":"f2_Zakharov_100D","algo":"HS-ES (2018)","fe":400000,"best":1.2e-9},
      {"fn":"f2_Zakharov_100D","algo":"HS-ES (2018)","fe":433333,"best":1.2e-9},
      {"fn":"f2_Zakharov_100D","algo":"HS-ES (2018)","fe":466667,"best":1.2e-9},
      {"fn":"f2_Zakharov_100D","algo":"HS-ES (2018)","fe":500000,"best":3.98e-10},

      {"fn":"f2_Zakharov_100D","algo":"iL-SHADE (pyade)","fe":0,"best":141},
      {"fn":"f2_Zakharov_100D","algo":"iL-SHADE (pyade)","fe":33333,"best":0.0676},
      {"fn":"f2_Zakharov_100D","algo":"iL-SHADE (pyade)","fe":66667,"best":1e-3},
      {"fn":"f2_Zakharov_100D","algo":"iL-SHADE (pyade)","fe":100000,"best":1.17e-5},
      {"fn":"f2_Zakharov_100D","algo":"iL-SHADE (pyade)","fe":133333,"best":1.35e-7},
      {"fn":"f2_Zakharov_100D","algo":"iL-SHADE (pyade)","fe":166667,"best":1.12e-9},
      {"fn":"f2_Zakharov_100D","algo":"iL-SHADE (pyade)","fe":200000,"best":7.08e-12},
      {"fn":"f2_Zakharov_100D","algo":"iL-SHADE (pyade)","fe":233333,"best":6.76e-14},
      {"fn":"f2_Zakharov_100D","algo":"iL-SHADE (pyade)","fe":266667,"best":5.01e-16},
      {"fn":"f2_Zakharov_100D","algo":"iL-SHADE (pyade)","fe":300000,"best":2.29e-18},
      {"fn":"f2_Zakharov_100D","algo":"iL-SHADE (pyade)","fe":333333,"best":1e-20},
      {"fn":"f2_Zakharov_100D","algo":"iL-SHADE (pyade)","fe":366667,"best":1.29e-23},
      {"fn":"f2_Zakharov_100D","algo":"iL-SHADE (pyade)","fe":400000,"best":1.41e-26},
      {"fn":"f2_Zakharov_100D","algo":"iL-SHADE (pyade)","fe":433333,"best":5.37e-30},
      {"fn":"f2_Zakharov_100D","algo":"iL-SHADE (pyade)","fe":466667,"best":3.8e-33},
      {"fn":"f2_Zakharov_100D","algo":"iL-SHADE (pyade)","fe":500000,"best":2.51e-34},

      {"fn":"f2_Zakharov_100D","algo":"IMODE (2020)","fe":0,"best":6.31e5},
      {"fn":"f2_Zakharov_100D","algo":"IMODE (2020)","fe":33333,"best":3.98e4},
      {"fn":"f2_Zakharov_100D","algo":"IMODE (2020)","fe":66667,"best":3.55e4},
      {"fn":"f2_Zakharov_100D","algo":"IMODE (2020)","fe":100000,"best":3.16e4},
      {"fn":"f2_Zakharov_100D","algo":"IMODE (2020)","fe":133333,"best":3.16e4},
      {"fn":"f2_Zakharov_100D","algo":"IMODE (2020)","fe":166667,"best":3.16e4},
      {"fn":"f2_Zakharov_100D","algo":"IMODE (2020)","fe":200000,"best":3.16e4},
      {"fn":"f2_Zakharov_100D","algo":"IMODE (2020)","fe":233333,"best":2.29e4},
      {"fn":"f2_Zakharov_100D","algo":"IMODE (2020)","fe":266667,"best":9.55e3},
      {"fn":"f2_Zakharov_100D","algo":"IMODE (2020)","fe":300000,"best":4.47e3},
      {"fn":"f2_Zakharov_100D","algo":"IMODE (2020)","fe":333333,"best":2.57e3},
      {"fn":"f2_Zakharov_100D","algo":"IMODE (2020)","fe":366667,"best":562},
      {"fn":"f2_Zakharov_100D","algo":"IMODE (2020)","fe":400000,"best":64.6},
      {"fn":"f2_Zakharov_100D","algo":"IMODE (2020)","fe":433333,"best":1e-10},
      {"fn":"f2_Zakharov_100D","algo":"IMODE (2020)","fe":466667,"best":1e-10},
      {"fn":"f2_Zakharov_100D","algo":"IMODE (2020)","fe":500000,"best":1e-33},

      {"fn":"f2_Zakharov_100D","algo":"NL-SHADE-LBC (2022)","fe":0,"best":3.16e5},
      {"fn":"f2_Zakharov_100D","algo":"NL-SHADE-LBC (2022)","fe":33333,"best":8.32e4},
      {"fn":"f2_Zakharov_100D","algo":"NL-SHADE-LBC (2022)","fe":66667,"best":2.82e4},
      {"fn":"f2_Zakharov_100D","algo":"NL-SHADE-LBC (2022)","fe":100000,"best":1.48e4},
      {"fn":"f2_Zakharov_100D","algo":"NL-SHADE-LBC (2022)","fe":133333,"best":3.98e3},
      {"fn":"f2_Zakharov_100D","algo":"NL-SHADE-LBC (2022)","fe":166667,"best":562},
      {"fn":"f2_Zakharov_100D","algo":"NL-SHADE-LBC (2022)","fe":200000,"best":123},
      {"fn":"f2_Zakharov_100D","algo":"NL-SHADE-LBC (2022)","fe":233333,"best":4.79},
      {"fn":"f2_Zakharov_100D","algo":"NL-SHADE-LBC (2022)","fe":266667,"best":0.0398},
      {"fn":"f2_Zakharov_100D","algo":"NL-SHADE-LBC (2022)","fe":300000,"best":3.39e-4},
      {"fn":"f2_Zakharov_100D","algo":"NL-SHADE-LBC (2022)","fe":333333,"best":3.24e-7},
      {"fn":"f2_Zakharov_100D","algo":"NL-SHADE-LBC (2022)","fe":366667,"best":3.24e-10},
      {"fn":"f2_Zakharov_100D","algo":"NL-SHADE-LBC (2022)","fe":400000,"best":9.12e-14},
      {"fn":"f2_Zakharov_100D","algo":"NL-SHADE-LBC (2022)","fe":433333,"best":1e-16},
      {"fn":"f2_Zakharov_100D","algo":"NL-SHADE-LBC (2022)","fe":466667,"best":3.8e-18},
      {"fn":"f2_Zakharov_100D","algo":"NL-SHADE-LBC (2022)","fe":500000,"best":1.62e-18},

      {"fn":"f2_Zakharov_100D","algo":"L-SRTDE (2024)","fe":0,"best":1.91e7},
      {"fn":"f2_Zakharov_100D","algo":"L-SRTDE (2024)","fe":33333,"best":1.05e5},
      {"fn":"f2_Zakharov_100D","algo":"L-SRTDE (2024)","fe":66667,"best":2.82e4},
      {"fn":"f2_Zakharov_100D","algo":"L-SRTDE (2024)","fe":100000,"best":1.17e4},
      {"fn":"f2_Zakharov_100D","algo":"L-SRTDE (2024)","fe":133333,"best":1.7e3},
      {"fn":"f2_Zakharov_100D","algo":"L-SRTDE (2024)","fe":166667,"best":372},
      {"fn":"f2_Zakharov_100D","algo":"L-SRTDE (2024)","fe":200000,"best":81.3},
      {"fn":"f2_Zakharov_100D","algo":"L-SRTDE (2024)","fe":233333,"best":11.5},
      {"fn":"f2_Zakharov_100D","algo":"L-SRTDE (2024)","fe":266667,"best":1.62},
      {"fn":"f2_Zakharov_100D","algo":"L-SRTDE (2024)","fe":300000,"best":0.229},
      {"fn":"f2_Zakharov_100D","algo":"L-SRTDE (2024)","fe":333333,"best":8.71e-3},
      {"fn":"f2_Zakharov_100D","algo":"L-SRTDE (2024)","fe":366667,"best":5.25e-4},
      {"fn":"f2_Zakharov_100D","algo":"L-SRTDE (2024)","fe":400000,"best":1.05e-5},
      {"fn":"f2_Zakharov_100D","algo":"L-SRTDE (2024)","fe":433333,"best":8.71e-8},
      {"fn":"f2_Zakharov_100D","algo":"L-SRTDE (2024)","fe":466667,"best":1.26e-10},
      {"fn":"f2_Zakharov_100D","algo":"L-SRTDE (2024)","fe":500000,"best":3.8e-13}
    ]
  },
  "hconcat": [
    {
      "width": 1586,
      "height": 1171,
      "title": {"text": "f1_Elliptic_100D", "offset": -10},
      "layer": [
        {
          "data": {"name": "curve"},
          "transform": [{"filter": "datum.fn == 'f1_Elliptic_100D'"}],
          "mark": {"type": "line", "clip": true, "strokeWidth": 8.33, "opacity": 0.8, "strokeJoin": "round"},
          "encoding": {
            "x": {"field": "fe", "type": "quantitative", "title": "Function Evaluations (FEs)",
              "scale": {"domain": [-25000, 525000], "nice": false, "zero": false},
              "axis": {"values": [0, 100000, 200000, 300000, 400000, 500000], "format": "d", "labelPadding": 9, "titlePadding": 12}},
            "y": {"field": "best", "type": "quantitative", "title": "Best-so-far Objective (Log Scale)",
              "scale": {"type": "log", "domain": [1.86e-42, 1.23e14], "nice": false},
              "axis": {"values": [1e14, 1e7, 1, 1e-7, 1e-14, 1e-21, 1e-28, 1e-35], "labelPadding": 16, "titleX": -196, "titleBaseline": "middle",
                "labelExpr": "'10' + replace(replace(replace(replace(replace(replace(replace(replace(replace(replace(replace(toString(round(log(datum.value)/LN10)), regexp('-','g'), '⁻'), regexp('0','g'), '⁰'), regexp('1','g'), '¹'), regexp('2','g'), '²'), regexp('3','g'), '³'), regexp('4','g'), '⁴'), regexp('5','g'), '⁵'), regexp('6','g'), '⁶'), regexp('7','g'), '⁷'), regexp('8','g'), '⁸'), regexp('9','g'), '⁹')"}},
            "color": {"field": "algo", "type": "nominal",
              "scale": {"domain": ["PSEQADE (2024)", "SciPy DE (best1bin)", "HS-ES (2018)", "iL-SHADE (pyade)", "IMODE (2020)", "NL-SHADE-LBC (2022)", "L-SRTDE (2024)"],
                "range": ["#1f77b4", "#ff7f0e", "#2ca02c", "#d62728", "#9467bd", "#8c564b", "#e377c2"]},
              "legend": {"title": null,
                "encode": {"symbols": {
                  "shape": {"value": {"expr": "datum.value === 'PSEQADE (2024)' ? 'M-2.7,0H2.7M1,0A1,1,0,1,1,-1,0A1,1,0,1,1,1,0Z' : datum.value === 'HS-ES (2018)' ? 'M-2.7,0H2.7M0,-1L-1,1L1,1Z' : datum.value === 'IMODE (2020)' ? 'M-2.7,0H2.7M0,1L-1,-1L1,-1Z' : datum.value === 'L-SRTDE (2024)' ? 'M-2.7,0H2.7M1,0L-1,-1L-1,1Z' : datum.value === 'SciPy DE (best1bin)' ? 'M-2.7,0H2.7M-1,-1H1V1H-1Z' : datum.value === 'iL-SHADE (pyade)' ? 'M-2.7,0H2.7M0,-1.414L1.414,0L0,1.414L-1.414,0Z' : 'M-2.7,0H2.7M-1,0L1,-1L1,1Z'"}},
                  "fill": {"value": {"expr": "scale('color', datum.value)"}},
                  "stroke": {"value": {"expr": "scale('color', datum.value)"}},
                  "strokeDash": {"value": {"expr": "scale('strokeDash', datum.value)"}},
                  "strokeWidth": {"value": 8.33},
                  "opacity": {"value": 0.8},
                  "size": {"value": 1156}
                }}}},
            "strokeDash": {"field": "algo", "type": "nominal",
              "scale": {"domain": ["PSEQADE (2024)", "SciPy DE (best1bin)", "HS-ES (2018)", "iL-SHADE (pyade)", "IMODE (2020)", "NL-SHADE-LBC (2022)", "L-SRTDE (2024)"],
                "range": [[1, 0], [30.8, 13.3], [53.3, 13.3, 8.3, 13.3], [8.3, 13.75], [1, 0], [30.8, 13.3], [53.3, 13.3, 8.3, 13.3]]},
              "legend": null}
          }
        },
        {
          "data": {"name": "checkpoint"},
          "transform": [{"filter": "datum.fn == 'f1_Elliptic_100D'"}],
          "mark": {"type": "point", "filled": true, "opacity": 0.8, "size": 1156},
          "encoding": {
            "x": {"field": "fe", "type": "quantitative"},
            "y": {"field": "best", "type": "quantitative"},
            "color": {"field": "algo", "type": "nominal"},
            "shape": {"field": "algo", "type": "nominal",
              "scale": {"domain": ["PSEQADE (2024)", "SciPy DE (best1bin)", "HS-ES (2018)", "iL-SHADE (pyade)", "IMODE (2020)", "NL-SHADE-LBC (2022)", "L-SRTDE (2024)"],
                "range": ["circle", "square", "M0,-1L-1,1L1,1Z", "M0,-1.414L1.414,0L0,1.414L-1.414,0Z", "M0,1L-1,-1L1,-1Z", "M-1,0L1,-1L1,1Z", "M1,0L-1,-1L-1,1Z"]},
              "legend": null}
          }
        }
      ]
    },
    {
      "width": 1587,
      "height": 1171,
      "title": {"text": "f2_Zakharov_100D", "offset": 16},
      "layer": [
        {
          "data": {"name": "curve"},
          "transform": [{"filter": "datum.fn == 'f2_Zakharov_100D'"}],
          "mark": {"type": "line", "clip": true, "strokeWidth": 8.33, "opacity": 0.8, "strokeJoin": "round"},
          "encoding": {
            "x": {"field": "fe", "type": "quantitative", "title": "Function Evaluations (FEs)",
              "scale": {"domain": [-25000, 525000], "nice": false, "zero": false},
              "axis": {"values": [0, 100000, 200000, 300000, 400000, 500000], "format": "d", "labelPadding": 9, "titlePadding": 12}},
            "y": {"field": "best", "type": "quantitative", "title": null,
              "scale": {"type": "log", "domain": [1.62e-36, 4.57e13], "nice": false},
              "axis": {"values": [1e12, 1e6, 1, 1e-6, 1e-12, 1e-18, 1e-24, 1e-30], "labelPadding": 16,
                "labelExpr": "'10' + replace(replace(replace(replace(replace(replace(replace(replace(replace(replace(replace(toString(round(log(datum.value)/LN10)), regexp('-','g'), '⁻'), regexp('0','g'), '⁰'), regexp('1','g'), '¹'), regexp('2','g'), '²'), regexp('3','g'), '³'), regexp('4','g'), '⁴'), regexp('5','g'), '⁵'), regexp('6','g'), '⁶'), regexp('7','g'), '⁷'), regexp('8','g'), '⁸'), regexp('9','g'), '⁹')"}},
            "color": {"field": "algo", "type": "nominal"},
            "strokeDash": {"field": "algo", "type": "nominal", "legend": null}
          }
        },
        {
          "data": {"name": "checkpoint"},
          "transform": [{"filter": "datum.fn == 'f2_Zakharov_100D'"}],
          "mark": {"type": "point", "filled": true, "opacity": 0.8, "size": 1156},
          "encoding": {
            "x": {"field": "fe", "type": "quantitative"},
            "y": {"field": "best", "type": "quantitative"},
            "color": {"field": "algo", "type": "nominal"},
            "shape": {"field": "algo", "type": "nominal", "legend": null}
          }
        }
      ]
    }
  ]
}
